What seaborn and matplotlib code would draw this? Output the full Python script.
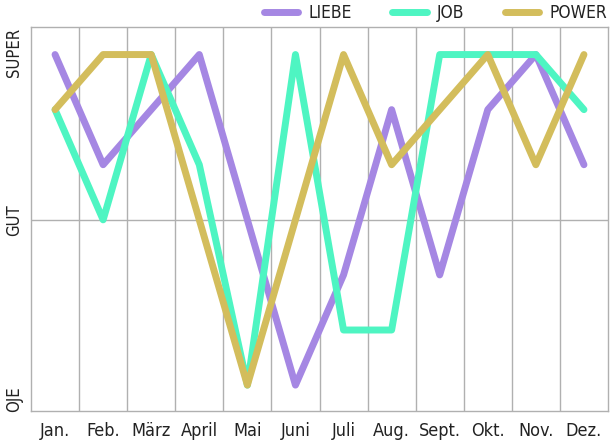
import matplotlib
matplotlib.use("Agg")
import matplotlib.pyplot as plt
import matplotlib.transforms as mtransforms
import seaborn as sns
import pandas as pd

months = ["Jan.", "Feb.", "März", "April", "Mai", "Juni", "Juli", "Aug.", "Sept.", "Okt.", "Nov.", "Dez."]
liebe = [6, 4, 5, 6, 3, 0, 2, 5, 2, 5, 6, 4]
job = [5, 3, 6, 4, 0, 6, 1, 1, 6, 6, 6, 5]
power = [5, 6, 6, 3, 0, 3, 6, 4, 5, 6, 4, 6]
series_names = ["LIEBE", "JOB", "POWER"]
colors = ["#a587e3", "#4ef5c2", "#d3bd5c"]
ytick_vals = [0, 3, 6]
ytick_labels = ["OJE", "GUT", "SUPER"]

df = pd.DataFrame({"Monat": months * 3,
                   "Wert": liebe + job + power,
                   "Serie": sum([[n] * len(months) for n in series_names], [])})
df["x"] = list(range(len(months))) * 3

sns.set_theme(style="white")
plt.rcParams["font.family"] = ["DejaVu Sans"]
plt.rcParams["font.stretch"] = "condensed"

fig = plt.figure(figsize=(6.16, 4.44), dpi=100)
ax = fig.add_axes([31 / 616, 1 - 411 / 444, (608 - 31) / 616, (411 - 27) / 444])

sns.lineplot(data=df, x="x", y="Wert", hue="Serie", hue_order=series_names,
             palette=colors, linewidth=5, ax=ax, sort=False,
             solid_capstyle="round", solid_joinstyle="round")

ax.set_xlim(-0.5, len(months) - 0.5)
ax.set_ylim(-0.47, 6.5)
ax.set_xticks(range(len(months)))
ax.set_xticklabels(months, fontsize=13, color="#222222")
ax.set_xticks([i + 0.5 for i in range(len(months) - 1)], minor=True)
ax.set_yticks(ytick_vals)
ax.set_yticklabels(ytick_labels, rotation=90, va="center", fontsize=12, color="#222222")
ax.tick_params(axis="both", which="both", length=0)
ax.tick_params(axis="x", pad=8)
ax.tick_params(axis="y", pad=6)
ax.grid(False)
ax.xaxis.grid(True, which="minor", color="#b0b0b0", linewidth=1)
ax.axhline(3, color="#b0b0b0", linewidth=1, zorder=0)
for s in ax.spines.values():
    s.set_color("#b0b0b0")
    s.set_linewidth(1)
ax.set_xlabel("")
ax.set_ylabel("")

# keep the outer labels inside the plot area
lbls = ax.get_yticklabels()
lbls[0].set_transform(lbls[0].get_transform() + mtransforms.ScaledTranslation(0, -14 / 100, fig.dpi_scale_trans))
lbls[2].set_transform(lbls[2].get_transform() + mtransforms.ScaledTranslation(0, 2 / 100, fig.dpi_scale_trans))

leg = ax.legend(loc="lower right", bbox_to_anchor=(1.008, 1.0), ncol=3, frameon=False,
                fontsize=12.5, handlelength=2.0, handletextpad=0.6, columnspacing=2.3,
                borderaxespad=0.1, borderpad=0.2)
for h in leg.get_lines():
    h.set_linewidth(5)
    h.set_solid_capstyle("round")
for t in leg.get_texts():
    t.set_color("#222222")

fig.savefig("out.png", dpi=100, facecolor="white")
